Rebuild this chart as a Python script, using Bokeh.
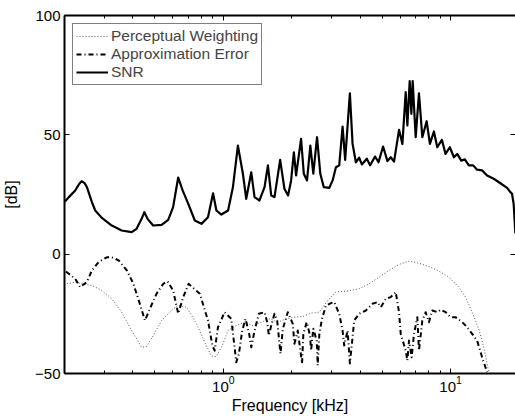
from bokeh.plotting import figure
from bokeh.models import (Range1d, FixedTicker, LogAxis, LinearAxis, Legend,
                          LegendItem)
from bokeh.embed import file_html
from bokeh.resources import INLINE

# ---- data ----
snr_freq = [0.201, 0.209, 0.223, 0.232, 0.238, 0.245, 0.251, 0.264, 0.273, 0.292, 0.323, 0.357,
            0.395, 0.415, 0.437, 0.449, 0.464, 0.491, 0.535, 0.572, 0.601, 0.633,
            0.662, 0.701, 0.749, 0.801, 0.856, 0.901, 0.932, 0.980, 1.049, 1.102, 1.159,
            1.219, 1.261, 1.327, 1.372, 1.442, 1.518, 1.571, 1.624, 1.679, 1.778,
            1.857, 1.927, 1.987, 2.043, 2.090, 2.198, 2.260, 2.335, 2.414, 2.488,
            2.584, 2.671, 2.765, 2.926, 3.026, 3.129, 3.235, 3.347, 3.436, 3.604,
            3.703, 3.830, 3.960, 4.069, 4.280, 4.423, 4.652, 4.817, 5.045, 5.274,
            5.453, 5.638, 5.931, 6.136, 6.345, 6.453, 6.607, 6.721, 6.809, 7.019,
            7.258, 7.509, 7.843, 8.110, 8.445, 8.736, 9.153, 9.503, 9.921, 10.34,
            10.69, 11.14, 11.55, 12.03, 12.57, 13.08, 13.76, 14.47, 15.48, 16.56,
            17.72, 18.32, 18.63, 18.94, 19.28]
snr_db = [22.1, 23.9, 26.7, 29.4, 30.6, 29.8, 28.1, 21.8, 18.3, 15.2, 12.0, 9.9,
          9.2, 10.6, 14.8, 17.6, 14.8, 12.0, 12.3, 14.4, 19.7, 32.1,
          26.7, 21.1, 14.1, 12.7, 15.5, 25.5, 18.3, 16.6, 18.3, 28.1, 45.5,
          33.7, 23.2, 34.3, 23.9, 22.5, 28.1, 37.2, 24.6, 23.9, 39.5,
          27.4, 24.6, 30.9, 42.7, 33.0, 48.3, 33.7, 30.9, 45.5, 33.7,
          49.0, 33.7, 28.1, 27.8, 30.9, 36.4, 37.2, 53.5, 39.5, 67.4,
          46.2, 38.5, 40.4, 37.6, 40.0, 37.2, 40.9, 38.5, 45.1, 39.0,
          40.6, 38.8, 52.1, 46.2, 67.9, 53.9, 72.5, 58.8, 72.5, 49.0,
          67.4, 49.0, 55.7, 46.2, 51.4, 44.8, 47.9, 42.0, 44.8, 40.6,
          42.0, 39.2, 39.7, 37.2, 37.2, 35.4, 35.1, 33.0, 31.6, 29.7,
          27.8, 26.0, 25.3, 21.1, 8.7]

pw_freq = [0.205, 0.223, 0.238, 0.264, 0.292, 0.323, 0.357, 0.395, 0.437, 0.459,
           0.491, 0.535, 0.591, 0.629, 0.689, 0.762, 0.828, 0.886, 0.932, 0.997,
           1.047, 1.140, 1.240, 1.350, 1.468, 1.597, 1.737, 1.889, 2.055, 2.236,
           2.432, 2.645, 2.877, 3.129, 3.462, 3.960, 4.381, 4.846, 5.361, 5.931,
           6.561, 7.258, 8.029, 8.882, 9.826, 10.87, 11.63, 12.44, 13.30, 13.99,
           14.47, 14.72]
pw_db = [-12.4, -11.7, -12.4, -13.1, -15.2, -18.7, -24.3, -32.0, -39.0, -38.7,
         -34.1, -27.8, -23.6, -21.5, -22.2, -29.2, -36.9, -42.7, -42.9, -37.5,
         -32.0, -29.9, -28.5, -29.9, -28.5, -27.1, -28.5, -27.1, -26.4, -26.1,
         -24.7, -24.3, -19.4, -15.9, -15.5, -14.5, -12.4, -9.6, -6.8, -4.3,
         -2.9, -3.8, -5.2, -7.1, -9.6, -13.8, -18.0, -24.3, -31.3, -39.0,
         -45.9, -49.4]

ae_freq = [0.203, 0.209, 0.223, 0.234, 0.251, 0.264, 0.282, 0.307, 0.323, 0.346,
           0.376, 0.402, 0.429, 0.452, 0.475, 0.508, 0.544, 0.568, 0.601, 0.633,
           0.666, 0.703, 0.788, 0.856, 0.895, 0.916, 0.947, 1.013, 1.084, 1.140,
           1.171, 1.211, 1.252, 1.299, 1.327, 1.372, 1.433, 1.518, 1.560, 1.586,
           1.624, 1.679, 1.725, 1.784, 1.827, 1.921, 2.021, 2.055, 2.126, 2.220,
           2.249, 2.328, 2.407, 2.432, 2.488, 2.576, 2.601, 2.645, 2.717, 2.829,
           2.975, 3.076, 3.235, 3.347, 3.403, 3.521, 3.604, 3.703, 3.765, 3.960,
           4.237, 4.532, 4.767, 4.930, 5.185, 5.453, 5.736, 5.931, 6.033, 6.345,
           6.453, 6.561, 6.741, 6.901, 7.138, 7.258, 7.509, 7.765, 8.029, 8.306,
           8.736, 9.035, 9.503, 10.0, 10.51, 11.25, 11.83, 12.44, 13.08, 13.76,
           14.23, 14.47]
ae_db = [-7.3, -8.2, -10.3, -13.8, -11.7, -6.8, -3.4, -1.3, -1.3, -2.6,
         -6.8, -12.4, -20.8, -27.8, -22.9, -16.6, -12.4, -11.4, -15.2, -24.9,
         -18.0, -12.4, -16.6, -27.8, -38.3, -40.4, -30.6, -24.3, -27.1, -45.3,
         -41.7, -32.0, -27.1, -33.4, -39.0, -32.0, -25.0, -24.3, -28.6, -34.1,
         -29.9, -25.0, -27.8, -41.7, -31.3, -24.3, -29.2, -37.5, -32.0, -45.9,
         -33.4, -28.5, -34.1, -40.4, -31.3, -36.2, -46.6, -33.4, -27.1, -21.5,
         -20.5, -20.1, -25.0, -32.0, -38.3, -32.0, -45.8, -34.8, -27.8, -25.0,
         -23.6, -20.8, -20.1, -22.2, -18.7, -18.0, -15.9, -24.3, -33.4, -40.4,
         -44.6, -36.2, -43.2, -33.4, -26.4, -40.4, -27.8, -24.3, -28.5, -23.6,
         -24.3, -23.3, -24.3, -26.4, -26.4, -28.5, -30.6, -33.4, -36.2, -43.2,
         -47.4, -49.4]

x_major = [1, 10]
x_minor = [0.2, 0.3, 0.4, 0.5, 0.6, 0.7, 0.8, 0.9, 2, 3, 4, 5, 6, 7, 8, 9]
y_ticks = [-50, 0, 50, 100]
labels = ["Perceptual Weighting", "Approximation Error", "SNR"]

FONT = "Liberation Sans"

p = figure(width=515, height=417, x_axis_type="log",
           x_range=Range1d(0.2, 19.3), y_range=Range1d(-50, 100),
           output_backend="svg", toolbar_location=None,
           min_border_left=63, min_border_right=0, min_border_top=15,
           min_border_bottom=44)
p.xgrid.visible = False
p.ygrid.visible = False
p.outline_line_color = None
p.background_fill_color = "white"
p.border_fill_color = "white"

r_pw = p.line(pw_freq, pw_db, line_color="#555555", line_width=1, line_dash="1 2")
r_ae = p.line(ae_freq, ae_db, line_color="black", line_width=2,
              line_dash="5 3 1 3", line_join="round")
r_snr = p.line(snr_freq, snr_db, line_color="black", line_width=2.2,
               line_join="round")

def style_axis(ax):
    ax.axis_line_color = "black"
    ax.axis_line_width = 2
    ax.major_tick_in = 5
    ax.major_tick_out = 0
    ax.minor_tick_in = 3
    ax.minor_tick_out = 0
    ax.major_tick_line_color = "black"
    ax.minor_tick_line_color = "black"
    ax.major_label_text_font = FONT
    ax.major_label_text_font_size = "15px"
    ax.major_label_text_color = "black"
    ax.axis_label_text_font = FONT
    ax.axis_label_text_font_size = "16px"
    ax.axis_label_text_font_style = "normal"
    ax.axis_label_text_color = "black"

xax = p.xaxis[0]
xax.ticker = FixedTicker(ticks=x_major, minor_ticks=x_minor)
style_axis(xax)
xax.axis_label = "Frequency [kHz]"
xax.major_label_standoff = 2
xax.axis_label_standoff = 2

yax = p.yaxis[0]
yax.ticker = FixedTicker(ticks=y_ticks)
style_axis(yax)
yax.minor_tick_line_color = None
yax.axis_label = "[dB]"
yax.major_label_standoff = 4
yax.axis_label_standoff = 12
yax.major_label_overrides = {-50: "\u221250"}

top = LogAxis(ticker=FixedTicker(ticks=x_major, minor_ticks=x_minor))
style_axis(top)
top.major_label_overrides = {1: "", 10: ""}
top.major_label_standoff = 0
top.major_label_text_font_size = "1px"
p.add_layout(top, "above")

right = LinearAxis(ticker=FixedTicker(ticks=y_ticks))
style_axis(right)
right.axis_line_color = None
right.minor_tick_line_color = None
right.major_label_overrides = {-50: "", 0: "", 50: "", 100: ""}
right.major_label_standoff = 0
right.major_label_text_font_size = "1px"
p.add_layout(right, "right")

legend = Legend(items=[LegendItem(label=labels[0], renderers=[r_pw]),
                       LegendItem(label=labels[1], renderers=[r_ae]),
                       LegendItem(label=labels[2], renderers=[r_snr])],
                location="top_left")
legend.margin = 8
legend.padding = 3
legend.spacing = 0
legend.label_text_font = FONT
legend.label_text_font_size = "15.5px"
legend.label_height = 18
legend.glyph_height = 18
legend.glyph_width = 32
legend.label_standoff = 3
legend.border_line_color = "black"
legend.border_line_width = 1
legend.background_fill_color = "white"
legend.background_fill_alpha = 1
p.add_layout(legend, "center")

open("out.html", "w").write(file_html(p, INLINE))
